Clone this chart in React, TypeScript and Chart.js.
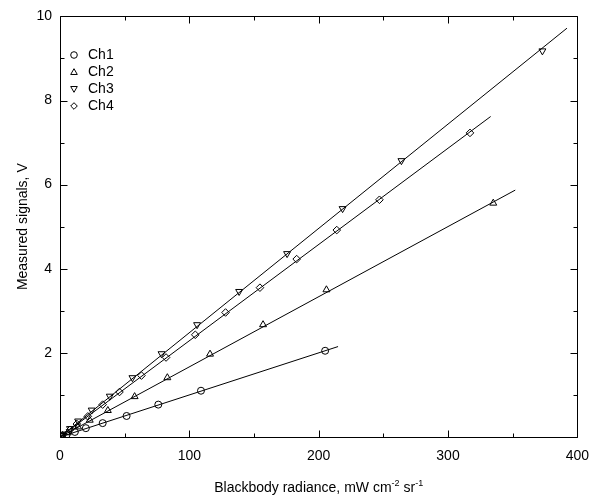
import React, { useEffect, useRef } from 'react';
import { Chart, registerables } from 'chart.js';

Chart.register(...registerables);

// ---- data ----
const seriesNames = ['Ch1', 'Ch2', 'Ch3', 'Ch4'];

const ch1X = [1, 5, 11.5, 20, 33, 51.5, 76, 109, 205];
const ch1Y = [0.01, 0.05, 0.12, 0.21, 0.33, 0.5, 0.77, 1.1, 2.05];

const ch2X = [2, 6, 14, 23, 37, 57.7, 83, 116, 157, 206, 335];
const ch2Y = [0.03, 0.1, 0.24, 0.4, 0.63, 0.96, 1.41, 1.97, 2.67, 3.5, 5.56];

const ch3X = [2, 7.7, 14, 24.5, 38.5, 56, 78.5, 106, 138.5, 175.6, 218.5, 264, 373];
const ch3Y = [0.05, 0.2, 0.38, 0.64, 0.97, 1.41, 1.98, 2.67, 3.46, 4.36, 5.43, 6.57, 9.18];

const ch4X = [2, 7.7, 13, 21.5, 33, 46, 63, 82, 104.6, 128, 154.6, 183, 214, 247, 317];
const ch4Y = [0.05, 0.17, 0.31, 0.49, 0.77, 1.07, 1.46, 1.89, 2.43, 2.96, 3.55, 4.23, 4.92, 5.64, 7.23];

// fitted lines: [x start, x end], [y start, y end]
const fit1X = [0, 215];
const fit1Y = [0, 2.15];
const fit2X = [0, 352];
const fit2Y = [0, 5.87];
const fit3X = [0, 392];
const fit3Y = [0, 9.72];
const fit4X = [0, 333];
const fit4Y = [0, 7.62];

const xTickLabels = [0, 100, 200, 300, 400];
const yTickLabels = [2, 4, 6, 8, 10];
const xMinorStep = 50;
const yMinorStep = 1;

const xTitleMain = 'Blackbody radiance, mW cm';
const xTitleSup1 = '-2';
const xTitleMid = ' sr';
const xTitleSup2 = '-1';
const yTitle = 'Measured signals, V';

const FONT = '"Liberation Sans", Arial, Helvetica, sans-serif';

const pts = (xs: number[], ys: number[]) => xs.map((x, i) => ({ x, y: ys[i] }));

type Marker = 'circle' | 'triangle' | 'down' | 'diamond';
const markers: Marker[] = ['circle', 'triangle', 'down', 'diamond'];

function drawMarker(ctx: CanvasRenderingContext2D, kind: Marker, cx: number, cy: number, r: number) {
  ctx.beginPath();
  if (kind === 'circle') {
    ctx.arc(cx, cy, r, 0, Math.PI * 2);
  } else if (kind === 'triangle') {
    ctx.moveTo(cx, cy - r);
    ctx.lineTo(cx + r, cy + r * 0.75);
    ctx.lineTo(cx - r, cy + r * 0.75);
    ctx.closePath();
  } else if (kind === 'down') {
    ctx.moveTo(cx, cy + r);
    ctx.lineTo(cx + r, cy - r * 0.75);
    ctx.lineTo(cx - r, cy - r * 0.75);
    ctx.closePath();
  } else {
    ctx.moveTo(cx, cy - r);
    ctx.lineTo(cx + r, cy);
    ctx.lineTo(cx, cy + r);
    ctx.lineTo(cx - r, cy);
    ctx.closePath();
  }
  ctx.stroke();
}

const framePlugin = {
  id: 'frameTicks',
  afterDraw(chart: any) {
    const { ctx, chartArea: a, scales } = chart;
    const xs = scales.x;
    const ys = scales.y;
    ctx.save();
    ctx.strokeStyle = '#000';
    ctx.lineWidth = 1;
    const L = Math.round(a.left) + 0.5;
    const R = Math.round(a.right) + 0.5;
    const T = Math.round(a.top) + 0.5;
    const B = Math.round(a.bottom) + 0.5;
    ctx.beginPath();
    ctx.rect(L, T, R - L, B - T);
    ctx.stroke();

    // x ticks (bottom and top, inward)
    ctx.beginPath();
    for (let v = xs.min; v <= xs.max + 1e-9; v += xMinorStep) {
      const px = Math.round(xs.getPixelForValue(v)) + 0.5;
      const len = xTickLabels.includes(v) ? 7 : 4;
      ctx.moveTo(px, B);
      ctx.lineTo(px, B - len);
      ctx.moveTo(px, T);
      ctx.lineTo(px, T + len);
    }
    // y ticks (left and right, inward)
    for (let v = ys.min; v <= ys.max + 1e-9; v += yMinorStep) {
      const py = Math.round(ys.getPixelForValue(v)) + 0.5;
      const len = yTickLabels.includes(v) || v === 0 ? 7 : 4;
      ctx.moveTo(L, py);
      ctx.lineTo(L + len, py);
      ctx.moveTo(R, py);
      ctx.lineTo(R - len, py);
    }
    ctx.stroke();

    // legend
    ctx.font = `14px ${FONT}`;
    ctx.fillStyle = '#000';
    ctx.textBaseline = 'middle';
    ctx.textAlign = 'left';
    const legX = 74;
    const legY0 = 55;
    const legDy = 17;
    seriesNames.forEach((name, i) => {
      const cy = legY0 + i * legDy;
      drawMarker(ctx, markers[i], legX, cy, 3.3);
      ctx.fillText(name, legX + 14, cy);
    });

    // x title with superscripts
    const big = `14px ${FONT}`;
    const small = `9px ${FONT}`;
    ctx.font = big;
    const w1 = ctx.measureText(xTitleMain).width;
    const w3 = ctx.measureText(xTitleMid).width;
    ctx.font = small;
    const w2 = ctx.measureText(xTitleSup1).width;
    const w4 = ctx.measureText(xTitleSup2).width;
    const total = w1 + w2 + w3 + w4;
    const cx = (a.left + a.right) / 2;
    let x0 = cx - total / 2;
    const base = 492;
    ctx.textBaseline = 'alphabetic';
    ctx.font = big;
    ctx.fillText(xTitleMain, x0, base);
    x0 += w1;
    ctx.font = small;
    ctx.fillText(xTitleSup1, x0, base - 6);
    x0 += w2;
    ctx.font = big;
    ctx.fillText(xTitleMid, x0, base);
    x0 += w3;
    ctx.font = small;
    ctx.fillText(xTitleSup2, x0, base - 6);

    // y title
    ctx.save();
    ctx.translate(23, (a.top + a.bottom) / 2);
    ctx.rotate(-Math.PI / 2);
    ctx.font = big;
    ctx.textAlign = 'center';
    ctx.textBaseline = 'middle';
    ctx.fillText(yTitle, 0, 0);
    ctx.restore();

    ctx.restore();
  },
};

const scatterDs = (label: string, xs: number[], ys: number[], style: string, rotation = 0, radius = 3.5) => ({
  label,
  data: pts(xs, ys),
  showLine: false,
  pointStyle: style,
  rotation,
  pointRadius: radius,
  pointBorderWidth: 1,
  borderColor: '#000',
  backgroundColor: 'rgba(0,0,0,0)',
  pointBackgroundColor: 'rgba(0,0,0,0)',
  pointBorderColor: '#000',
});

const lineDs = (label: string, xs: number[], ys: number[]) => ({
  label,
  data: pts(xs, ys),
  showLine: true,
  pointRadius: 0,
  borderColor: '#000',
  borderWidth: 1,
  backgroundColor: 'rgba(0,0,0,0)',
  fill: false,
});

export default function App() {
  const ref = useRef<HTMLCanvasElement | null>(null);

  useEffect(() => {
    document.body.style.margin = '0';
    const canvas = ref.current;
    if (!canvas) return;
    const chart = new Chart(canvas, {
      type: 'scatter',
      data: {
        datasets: [
          lineDs('fit1', fit1X, fit1Y),
          lineDs('fit2', fit2X, fit2Y),
          lineDs('fit3', fit3X, fit3Y),
          lineDs('fit4', fit4X, fit4Y),
          scatterDs(seriesNames[0], ch1X, ch1Y, 'circle', 0, 3.5),
          scatterDs(seriesNames[1], ch2X, ch2Y, 'triangle', 0, 4),
          scatterDs(seriesNames[2], ch3X, ch3Y, 'triangle', 180, 4),
          scatterDs(seriesNames[3], ch4X, ch4Y, 'rectRot', 0, 3.8),
        ] as any,
      },
      options: {
        animation: false,
        responsive: false,
        maintainAspectRatio: false,
        layout: { padding: { top: 11, right: 20, left: 0, bottom: 0 } },
        plugins: {
          legend: { display: false },
          tooltip: { enabled: false },
          title: { display: false },
        },
        scales: {
          x: {
            type: 'linear',
            min: xTickLabels[0],
            max: xTickLabels[xTickLabels.length - 1],
            grid: { display: false, drawTicks: false },
            border: { display: false },
            afterBuildTicks: (s: any) => {
              s.ticks = xTickLabels.map((v) => ({ value: v }));
            },
            afterFit: (s: any) => {
              s.height = 64;
            },
            ticks: {
              padding: 11,
              color: '#000',
              font: { family: FONT, size: 14 },
              maxRotation: 0,
            },
          },
          y: {
            type: 'linear',
            min: 0,
            max: yTickLabels[yTickLabels.length - 1],
            grid: { display: false, drawTicks: false },
            border: { display: false },
            afterBuildTicks: (s: any) => {
              s.ticks = yTickLabels.map((v) => ({ value: v }));
            },
            afterFit: (s: any) => {
              s.width = 60;
            },
            ticks: {
              padding: 8,
              color: '#000',
              font: { family: FONT, size: 14 },
            },
          },
        },
      },
      plugins: [framePlugin],
    });
    return () => chart.destroy();
  }, []);

  return (
    <div style={{ width: 600, height: 501 }}>
      <canvas ref={ref} width={600} height={501} style={{ display: 'block' }} />
    </div>
  );
}
